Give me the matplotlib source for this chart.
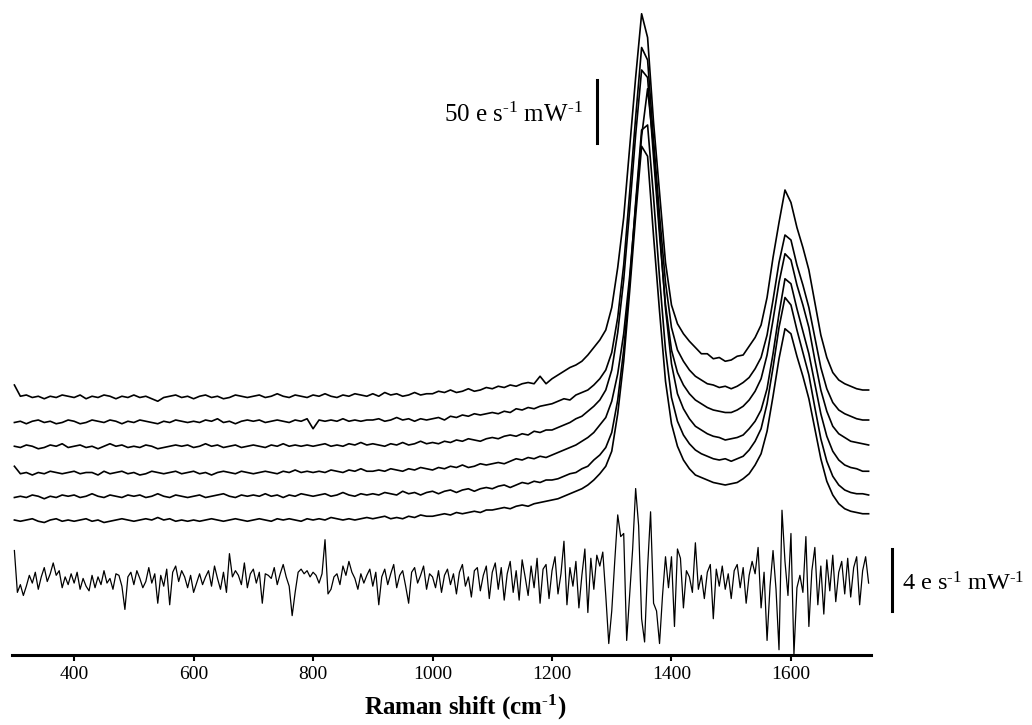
import numpy as np
import matplotlib
matplotlib.use("Agg")
import matplotlib.pyplot as plt

plt.rcParams['font.family'] = ['Liberation Serif', 'DejaVu Serif']
plt.rcParams['mathtext.fontset'] = 'custom'
plt.rcParams['mathtext.rm'] = 'Liberation Serif'
plt.rcParams['mathtext.it'] = 'Liberation Serif:italic'
plt.rcParams['mathtext.bf'] = 'Liberation Serif:bold'

# sampling grids of the spectrometer (cm-1)
shift = np.arange(300, 1731, 10)
resid_shift = np.arange(300, 1731, 5)

# vertical offset of each stacked spectrum (e s-1 mW-1)
offsets = [114, 94, 74, 53, 34, 15]

trace1 = [10, 1, 2, 0, 1, -1, 1, 0, 2, 1,
          0, 2, -1, 1, 0, 2, 1, -1, 1, 0,
          2, 0, 1, -1, -3, 0, 1, 2, 0, 1,
          -1, 1, 2, 0, 1, -1, 0, 2, 1, 0,
          1, 2, 0, 1, 3, 1, 0, 2, 1, 0,
          2, 1, 3, 1, 0, 2, 1, 3, 2, 1,
          3, 1, 4, 2, 3, 1, 2, 4, 2, 3,
          3, 5, 4, 6, 4, 5, 7, 5, 6, 8,
          7, 9, 8, 10, 9, 11, 12, 11, 17, 11,
          15, 18, 21, 24, 26, 29, 34, 40, 46, 54,
          72, 104, 144, 200, 256, 307, 288, 220, 164, 108,
          74, 59, 51, 45, 40, 35, 35, 31, 32, 29,
          30, 33, 34, 41, 48, 58, 80, 112, 140, 166,
          156, 136, 120, 102, 76, 50, 32, 20, 14, 11,
          9, 7, 6, 6]

trace2 = [0, 1, -1, 1, 2, 0, 1, -1, 0, 2,
          1, -1, 0, 2, 1, 0, 2, 1, -1, 1,
          0, 2, 1, 0, -1, 1, 0, 2, 1, 0,
          1, 0, 2, 1, 3, 0, 1, -1, 1, 2,
          1, 2, 0, 1, 2, 1, 0, 2, 1, 3,
          -5, 2, 1, 2, 1, 3, 1, 2, 1, 2,
          2, 3, 1, 2, 4, 2, 3, 1, 3, 2,
          3, 4, 2, 5, 4, 6, 5, 7, 6, 7,
          8, 7, 9, 8, 11, 10, 12, 11, 13, 14,
          15, 17, 19, 18, 22, 24, 26, 30, 35, 42,
          56, 84, 126, 184, 244, 300, 290, 226, 166, 112,
          76, 58, 49, 42, 37, 34, 31, 30, 28, 29,
          27, 29, 32, 36, 43, 52, 70, 98, 128, 150,
          146, 126, 110, 92, 68, 44, 27, 16, 10, 7,
          5, 3, 2, 2]

trace3 = [1, 0, 2, 1, -1, 0, 2, 1, 3, 0,
          1, 2, 0, 1, -1, 1, 3, 1, 2, 0,
          1, 0, 2, 1, -1, 0, 1, 2, 1, 2,
          0, 1, 3, 1, 2, 0, 1, 2, 0, 1,
          2, 1, 0, 2, 1, 3, 1, 2, 1, 2,
          1, 2, 3, 1, 2, 1, 3, 2, 4, 2,
          3, 2, 1, 3, 2, 4, 2, 3, 5, 3,
          4, 3, 5, 4, 6, 5, 7, 6, 5, 7,
          8, 7, 9, 10, 9, 11, 10, 13, 12, 14,
          14, 16, 18, 20, 23, 25, 29, 33, 38, 46,
          62, 92, 134, 190, 250, 302, 296, 232, 170, 114,
          78, 60, 50, 43, 38, 35, 32, 30, 29, 28,
          28, 30, 33, 38, 45, 55, 74, 102, 132, 155,
          150, 130, 114, 96, 70, 46, 29, 17, 11, 8,
          5, 4, 3, 2]

trace4 = [6, 0, 1, -1, 1, 0, 2, 1, 0, 1,
          2, 0, 1, 1, -1, 2, 0, 1, 2, 0,
          1, -1, 0, 2, 1, 0, 1, 2, 0, 1,
          2, 0, 1, -1, 1, 2, 1, 0, 2, 1,
          0, 1, 2, 1, 0, 2, 1, 3, 1, 2,
          1, 2, 1, 3, 2, 1, 3, 2, 4, 2,
          2, 3, 2, 4, 3, 2, 4, 3, 5, 4,
          3, 5, 4, 6, 5, 7, 5, 6, 8, 7,
          8, 9, 8, 10, 12, 11, 13, 12, 14, 13,
          15, 17, 19, 21, 23, 26, 29, 33, 39, 45,
          58, 80, 112, 158, 214, 270, 308, 262, 196, 132,
          88, 64, 52, 44, 38, 35, 32, 30, 29, 27,
          28, 29, 31, 36, 42, 51, 68, 96, 128, 156,
          152, 132, 114, 96, 72, 48, 30, 18, 11, 7,
          5, 4, 2, 2]

trace5 = [0, 1, 0, 2, 1, -1, 1, 0, 2, 1,
          2, 0, 1, 3, 1, 0, 2, 1, 0, 2,
          1, 2, 0, 1, 3, 1, 0, 2, 1, 0,
          1, 2, 0, 1, 2, 3, 1, 0, 2, 1,
          2, 1, 3, 1, 2, 0, 2, 1, 3, 2,
          1, 2, 3, 1, 2, 4, 2, 1, 3, 2,
          3, 2, 4, 3, 2, 5, 3, 4, 2, 4,
          5, 3, 5, 6, 4, 6, 7, 5, 7, 8,
          7, 9, 10, 8, 10, 12, 11, 13, 12, 14,
          14, 15, 17, 19, 20, 23, 25, 30, 34, 40,
          52, 78, 118, 172, 236, 294, 298, 240, 176, 118,
          80, 61, 50, 43, 38, 35, 33, 31, 30, 31,
          29, 31, 33, 38, 45, 55, 75, 104, 136, 160,
          154, 134, 116, 98, 72, 47, 29, 17, 10, 6,
          4, 3, 3, 2]

trace6 = [1, 0, 1, 2, 0, -1, 1, 2, 0, 1,
          0, 1, 2, 0, 1, -1, 0, 1, 2, 1,
          0, 1, 2, 1, 3, 1, 2, 0, 1, 0,
          1, 0, 1, 2, 1, 0, 1, 2, 1, 0,
          1, 2, 1, 0, 2, 1, 2, 1, 0, 2,
          1, 2, 1, 3, 2, 1, 2, 1, 2, 3,
          2, 3, 4, 2, 3, 2, 4, 3, 5, 4,
          4, 5, 6, 5, 7, 6, 7, 8, 7, 9,
          9, 10, 11, 10, 12, 13, 12, 14, 15, 16,
          17, 18, 20, 22, 24, 26, 29, 33, 38, 44,
          56, 86, 128, 184, 244, 300, 292, 228, 168, 112,
          78, 60, 49, 42, 37, 35, 33, 31, 30, 29,
          30, 31, 34, 38, 45, 54, 72, 100, 130, 154,
          150, 132, 116, 98, 74, 50, 32, 21, 14, 10,
          8, 7, 6, 6]

spectra = [trace1, trace2, trace3, trace4, trace5, trace6]

# fit residual (e s-1 mW-1)
residual = [1.9, -0.8, -0.3, -1.0, -0.4, 0.3, -0.2, 0.5, -0.6, 0.2, 0.8, -0.1, 0.4, 1.1, 0.3, 0.6, -0.5, 0.2, -0.3, 0.4,
            -0.2, 0.5, -0.6, 0.1, -0.4, -0.7, 0.3, -0.5, 0.2, -0.3, 0.6, -0.2, 0.1, -0.6, 0.4, 0.3, -0.4, -1.9, 0.2, 0.5,
            -0.3, 0.6, 0.1, -0.5, -0.1, 0.8, -0.2, 0.4, -1.5, 0.3, -0.4, 0.7, -1.6, 0.5, 0.9, -0.1, 0.6, 0.2, -0.5, 0.3,
            -0.8, -0.2, 0.4, -0.3, 0.2, 0.6, -0.4, 0.9, 0.1, -0.6, 0.5, -0.8, 1.7, 0.2, 0.6, 0.3, -0.3, 1.1, -0.5, 0.4,
            0.7, -0.2, 0.5, -1.5, 0.4, 0.3, 0.1, 0.8, -0.3, 0.4, 1.0, 0.2, -0.4, -2.3, -0.8, 0.5, 0.7, 0.4, 0.6, 0.2,
            0.5, 0.3, -0.2, 0.4, 2.6, -0.9, -0.6, 0.2, 0.4, -0.3, 0.9, 0.3, 1.2, 0.5, 0.1, -0.6, 0.4, -0.2, 0.3, 0.7,
            -0.4, 0.5, -1.6, 0.2, 0.7, -0.3, 0.4, 1.0, -0.5, 0.3, 0.6, -0.4, -1.5, 0.5, 0.8, -0.2, 0.3, 0.9, -0.6, 0.4,
            0.2, -0.5, 0.6, -0.8, 0.3, 0.7, -0.3, 0.4, -0.9, 0.5, 1.0, -0.4, 0.2, -1.1, 0.6, 0.8, -0.7, 0.3, 0.9, -1.2,
            0.5, 1.1, -0.6, 0.8, -1.3, 0.4, 1.2, -0.8, 0.6, -1.3, 1.3, 0.2, -1.0, 0.9, -0.5, 1.4, -1.5, 0.7, 1.0, -1.2,
            0.6, 1.5, -0.9, 0.4, 2.5, -1.6, 0.8, -0.4, 1.2, -1.8, 0.3, 2.0, -2.1, 1.4, -0.6, 1.6, 0.9, 1.8, -1.0, -4.1,
            -2.0, 1.2, 4.2, 2.8, 3.0, -3.9, -1.0, 2.0, 5.9, 3.5, -2.5, -4.0, 0.8, 4.4, -1.5, -2.0, -4.1, -1.0, 1.5, -0.5,
            1.5, -3.0, 2.0, 1.4, -1.8, 0.6, 0.2, -0.8, 2.4, -0.6, 0.3, -1.2, 0.5, 1.0, -2.5, 0.7, -0.4, 0.9, -0.6, 0.4,
            -1.2, 0.6, 1.0, -0.5, 0.8, -1.5, 0.3, 1.2, 0.4, 2.1, -1.8, 0.5, -3.9, -0.4, 1.9, -0.6, -4.5, 4.5, 1.2, -1.0,
            3.0, -4.8, -0.5, 0.3, -0.8, 2.8, -3.0, 0.6, 2.1, -1.6, 0.9, -2.2, 1.3, -0.7, 1.6, -1.4, 0.5, 1.2, -0.9, 1.4,
            -1.1, 0.8, 1.5, -1.6, 0.6, 1.5, -0.2]

xticks = [400, 600, 800, 1000, 1200, 1400, 1600]

fig = plt.figure(figsize=(10.32, 7.25), dpi=100)
rect = [12 / 1032, 70 / 725, 859 / 1032, 655 / 725]
ax = fig.add_axes(rect)

for off, tr in zip(offsets, spectra):
    ax.plot(shift, np.array(tr) + off, color='black', lw=1.2)

ax.set_xlim(296, 1734)
ax.set_ylim(-92, 432)
ax.set_yticks([])
for side in ['left', 'right', 'top']:
    ax.spines[side].set_visible(False)
ax.spines['bottom'].set_linewidth(2.2)
ax.set_xticks(xticks)
ax.tick_params(axis='x', direction='out', length=4, width=1.5, labelsize=14, pad=4)
ax.set_xlabel(r'Raman shift (cm$^{\mathbf{\text{-}1}}$)', fontsize=18, fontweight='bold')
ax.xaxis.set_label_coords(0.528, -0.058)

# 50 e s-1 mW-1 scale bar
ax.plot([1275, 1275], [318, 368], color='black', lw=2.2)
ax.text(1252, 334, r'50 e s$^{\text{-}1}$ mW$^{\text{-}1}$', fontsize=18,
        ha='right', va='baseline')

# residual on its own vertical scale
ax2 = fig.add_axes(rect, sharex=ax, frameon=False)
ax2.plot(resid_shift, residual, color='black', lw=0.9)
ax2.set_ylim(-4.84, 37.42)
ax2.set_yticks([])
ax2.tick_params(axis='x', which='both', bottom=False, labelbottom=False)

ax2.plot([1769, 1769], [-2, 2], color='black', lw=2.2, clip_on=False)
ax2.text(1786, -0.65, r'4 e s$^{\text{-}1}$ mW$^{\text{-}1}$', fontsize=17.5,
         ha='left', va='baseline')

fig.savefig('out.png', dpi=100)
